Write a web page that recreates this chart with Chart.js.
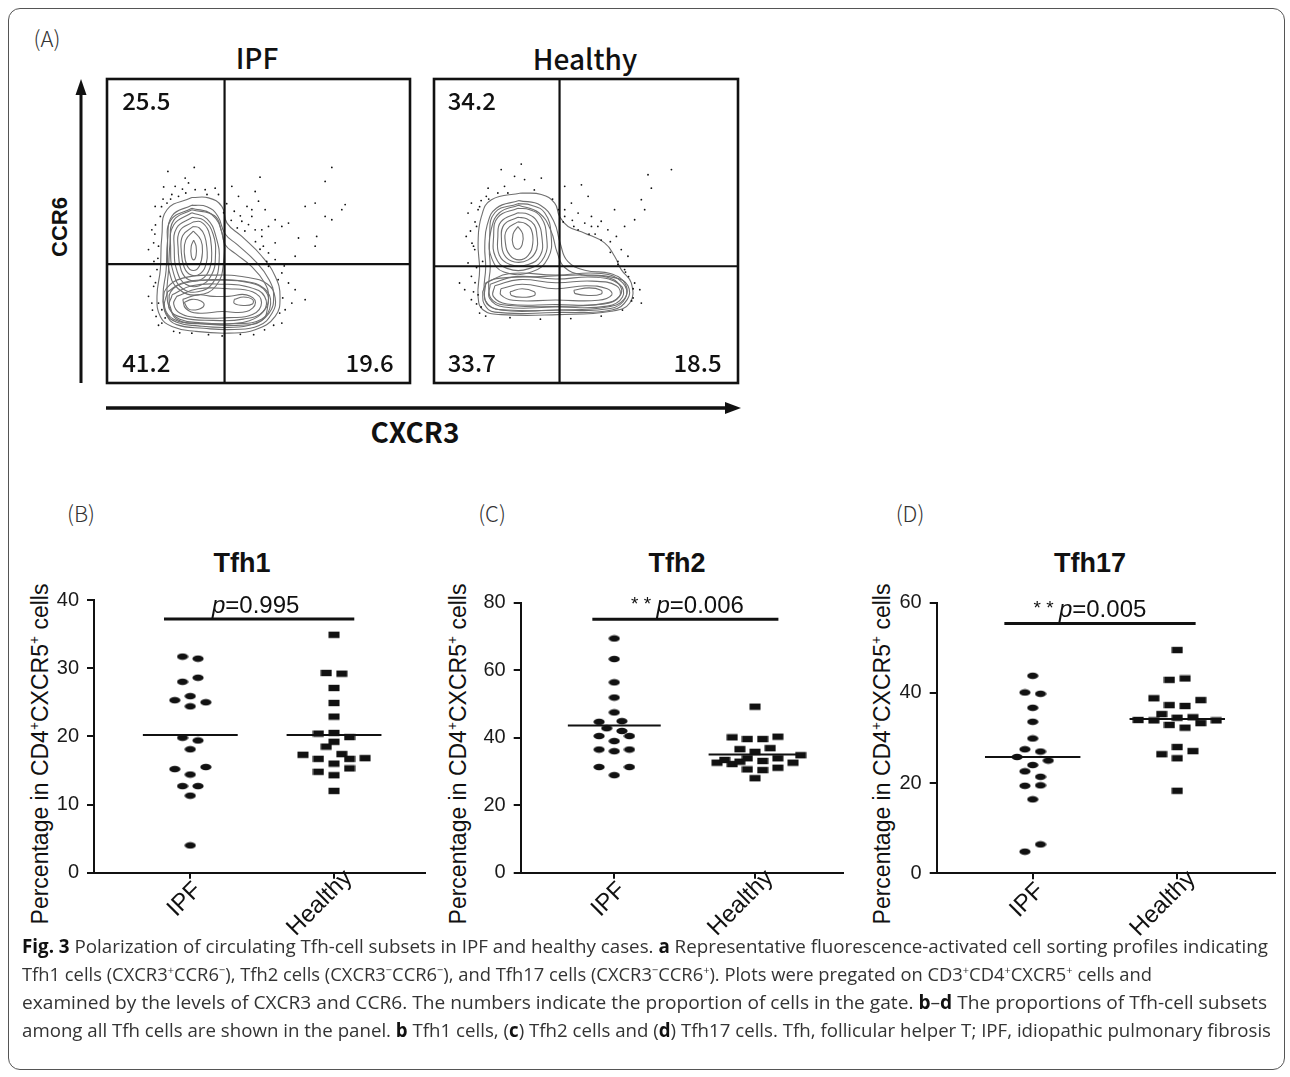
<!DOCTYPE html>
<html>
<head>
<meta charset="utf-8">
<script src="https://cdn.jsdelivr.net/npm/chart.js@4.4.1/dist/chart.umd.min.js"></script>
<style>
  body { margin: 0; width: 1290px; height: 1077px; position: relative; overflow: hidden; background: #fff; font-family: "Liberation Sans", Arial, sans-serif; color: #111; }
  .frame { position: absolute; left: 8px; top: 8px; width: 1277px; height: 1062px; border: 1.5px solid #555; border-radius: 12px; box-sizing: border-box; }
  .t { position: absolute; white-space: nowrap; transform: translate(-50%, -50%); }
  .jp { font-family: "Noto Sans CJK JP", "Noto Sans", sans-serif; }
  .letter { font-family: "Noto Sans CJK JP", sans-serif; font-size: 22px; font-weight: 300; color: #333; }
  .ptitle { font-size: 27px; font-weight: bold; }
  .ytitle { position: absolute; white-space: nowrap; font-size: 23px; transform: translate(-50%, -50%) rotate(-90deg); }
  .ytitle sup, .cap sup { font-size: 0.6em; line-height: 0; }
  canvas { position: absolute; }
  .cap { position: absolute; left: 22px; white-space: nowrap; font-family: "Open Sans", sans-serif; font-size: 19px; color: #333; transform-origin: left center; line-height: 28px; }
  .cap b { color: #111; }
</style>
</head>
<body>
<div class="frame"></div>

<!-- panel A text -->
<div class="t letter" style="left:47px;top:37px">(A)</div>
<div class="t jp" style="left:257px;top:57px;font-size:28px;font-weight:500">IPF</div>
<div class="t jp" style="left:585px;top:58px;font-size:28px;font-weight:500">Healthy</div>
<div class="ytitle" style="left:60px;top:227px;font-size:22px;font-weight:bold">CCR6</div>
<div class="t jp" style="left:415px;top:431px;font-size:28px;font-weight:700">CXCR3</div>
<svg style="position:absolute;left:0;top:0" width="760" height="440">
  <line x1="81" y1="383" x2="81" y2="92" stroke="#111" stroke-width="3"/>
  <polygon points="81,79 75.5,95 86.5,95" fill="#111"/>
  <line x1="106" y1="408" x2="727" y2="408" stroke="#111" stroke-width="3.5"/>
  <polygon points="741,408 725,402 725,414" fill="#111"/>
</svg>
<canvas id="flowIpf" width="311" height="312" style="left:103px;top:75px"></canvas>
<canvas id="flowHealthy" width="312" height="312" style="left:430px;top:75px"></canvas>

<!-- panels B-D text -->
<div class="t letter" style="left:81px;top:512px">(B)</div>
<div class="t letter" style="left:492px;top:512px">(C)</div>
<div class="t letter" style="left:910px;top:512px">(D)</div>
<div class="t ptitle" style="left:242px;top:563px">Tfh1</div>
<div class="t ptitle" style="left:677px;top:563px">Tfh2</div>
<div class="t ptitle" style="left:1090px;top:563px">Tfh17</div>
<div class="ytitle" style="left:40px;top:754px">Percentage in CD4<sup>+</sup>CXCR5<sup>+</sup> cells</div>
<div class="ytitle" style="left:458px;top:754px">Percentage in CD4<sup>+</sup>CXCR5<sup>+</sup> cells</div>
<div class="ytitle" style="left:882px;top:754px">Percentage in CD4<sup>+</sup>CXCR5<sup>+</sup> cells</div>
<canvas id="tfh1" width="440" height="380" style="left:0px;top:580px"></canvas>
<canvas id="tfh2" width="430" height="380" style="left:430px;top:580px"></canvas>
<canvas id="tfh17" width="440" height="380" style="left:850px;top:580px"></canvas>

<div class="cap" data-w="1246" style="top:932px"><b>Fig. 3</b> Polarization of circulating Tfh-cell subsets in IPF and healthy cases. <b>a</b> Representative fluorescence-activated cell sorting profiles indicating</div>
<div class="cap" data-w="1130" style="top:960px">Tfh1 cells (CXCR3<sup>+</sup>CCR6<sup>−</sup>), Tfh2 cells (CXCR3<sup>−</sup>CCR6<sup>−</sup>), and Tfh17 cells (CXCR3<sup>−</sup>CCR6<sup>+</sup>). Plots were pregated on CD3<sup>+</sup>CD4<sup>+</sup>CXCR5<sup>+</sup> cells and</div>
<div class="cap" data-w="1245" style="top:988px">examined by the levels of CXCR3 and CCR6. The numbers indicate the proportion of cells in the gate. <b>b</b>–<b>d</b> The proportions of Tfh-cell subsets</div>
<div class="cap" data-w="1249" style="top:1016px">among all Tfh cells are shown in the panel. <b>b</b> Tfh1 cells, (<b>c</b>) Tfh2 cells and (<b>d</b>) Tfh17 cells. Tfh, follicular helper T; IPF, idiopathic pulmonary fibrosis</div>

<script>
// ---- data -------------------------------------------------------------
const groups = ['IPF', 'Healthy'];

// % of CD4+CXCR5+ cells; "spread" = sideways slot of a dot so overlapping ones stay visible
const tfh1Ipf = [31.7, 31.4, 28.0, 28.6, 25.3, 25.9, 25.0, 24.4, 19.8, 19.4, 18.1, 15.2, 15.5, 14.4, 12.7, 12.7, 11.3, 4.0];
const tfh1IpfSpread = [-1, 1, -1, 1, -2, 0, 2, 0, -1, 1, 0, -2, 2, 0, -1, 1, 0, 0];
const tfh1Healthy = [34.9, 29.3, 29.2, 27.1, 24.9, 22.9, 20.4, 20.5, 19.9, 19.2, 18.5, 17.3, 17.4, 16.8, 16.7, 16.0, 16.7, 14.8, 15.3, 14.3, 12.0];
const tfh1HealthySpread = [0, -1, 1, 0, 0, 0, -2, 0, 2, 0, -1, -4, 1, 4, -2, 0, 2, -2, 2, 0, 0];
const tfh1Medians = [20.2, 20.2];

const tfh2Ipf = [69.4, 63.3, 56.4, 51.9, 47.5, 44.7, 44.9, 42.8, 42.0, 40.5, 40.5, 39.0, 36.5, 36.0, 36.5, 31.3, 31.3, 28.9];
const tfh2IpfSpread = [0, 0, 0, 0, 0, -2, 1, -1, 1, -2, 2, 0, -2, 0, 2, -2, 2, 0];
const tfh2Healthy = [49.2, 40.1, 39.6, 39.6, 40.3, 36.6, 36.9, 35.8, 32.6, 33.4, 32.2, 32.9, 33.9, 33.1, 33.9, 32.6, 34.8, 30.6, 30.4, 31.1, 28.0];
const tfh2HealthySpread = [0, -3, -1, 1, 3, -2, 2, 0, -5, -4, -3, -2, -1, 1, 3, 5, 6, -1, 1, 3, 0];
const tfh2Medians = [43.6, 35.0];

const tfh17Ipf = [43.8, 40.1, 39.8, 36.7, 33.6, 29.9, 27.5, 27.0, 25.8, 25.0, 24.0, 22.6, 21.4, 19.4, 19.5, 16.4, 4.8, 6.4];
const tfh17IpfSpread = [0, -1, 1, 0, 0, 0, -1, 1, -2, 2, 0, -1, 1, -1, 1, 0, -1, 1];
const tfh17Healthy = [49.5, 42.9, 43.2, 38.8, 38.4, 37.3, 37.1, 35.3, 34.0, 33.9, 34.5, 34.6, 32.9, 32.3, 33.3, 33.9, 28.0, 26.4, 27.1, 25.5, 18.3];
const tfh17HealthySpread = [0, -1, 1, -3, 3, -1, 1, -2, -5, -3, 0, 2, -1, 1, 3, 5, 0, -2, 2, 0, 0];
const tfh17Medians = [25.8, 34.2];

const pValues = ['0.995', '0.006', '0.005'];

// FACS quadrant percentages: upper-left, lower-left, lower-right
const ipfQuadrants = ['25.5', '41.2', '19.6'];
const healthyQuadrants = ['34.2', '33.7', '18.5'];
// gate thresholds (CXCR3, CCR6) on a 0-100 display scale
const ipfGate = [38.8, 39.1];
const healthyGate = [41.3, 38.4];

// contour levels (CXCR3, CCR6)
const ipfContours = [
  [[28,61],[19.8,57],[18.1,48.2],[17.6,37.3],[16.5,28.5],[17.6,21.9],[21.4,18.6],[29.1,17],[40.1,16.4],[48.9,17.5],[55.5,21.9],[57.1,28.5],[55.5,35.1],[51.1,41.7],[44.5,48.2],[39.6,52.6],[37.9,58.1],[33.5,60.9]],
  [[28,58.5],[21.5,55],[20,47],[19.5,37],[18.5,29],[19.5,23],[23,20],[30,18.8],[40,18.3],[48,19.3],[53.5,23],[55,28.5],[53.5,34],[49,40],[43,45.5],[39,49],[36.5,55],[33,58]],
  [[28,57],[22,53.5],[20.8,46],[20.3,37],[19.8,29],[21,24],[24,21],[31,19.8],[40,19.5],[47,20.5],[52,24],[53.3,28.5],[52,33],[47.5,38.5],[42.5,42.5],[39,45.5],[37.8,50],[35.5,55]],
  [[28,57.5],[21,53.5],[20,45],[20.5,37],[23.5,31],[30,29],[36,32],[38.5,40],[38,49],[34.5,55.5]],
  [[28,56],[22,52],[21,44],[22,36],[25,31],[30,30],[35,33],[37,40],[36,48],[33,54]],
  [[28.2,54.5],[23,51],[22.2,44],[23.2,36.5],[26,32.5],[30.5,32],[34.5,35.5],[35.8,42],[35,49],[32,53.5]],
  [[28.5,53],[24,50],[23.5,44],[24.5,37],[27,34],[31,34],[34,38],[34.5,44],[33.5,50],[31,53]],
  [[28.5,51.5],[25,48.5],[24.5,43.5],[25.5,38],[27.8,35.5],[30.8,36],[32.8,39.5],[33,44],[32.2,48.5],[30.5,51]],
  [[28.5,50],[26,47],[25.5,43],[26.5,38.5],[28.5,37],[30.5,38.5],[31.5,43],[31,47]],
  [[28.6,47],[27.8,45],[27.8,42],[28.6,40.5],[29.4,42],[29.4,45]],
  [[18.5,27],[19.5,22.5],[23,19.2],[32,18],[42,17.6],[50,18.8],[54.5,23],[55.5,28],[53,32.5],[46,34.8],[36,35.5],[25,34.5],[19.5,31]],
  [[20.5,26],[23,21],[32,19.5],[44,19],[51,20.5],[53,25],[52.5,30],[47,33],[36,33.8],[26,33],[21,30]],
  [[20,30],[25,33],[35,34],[45,33.5],[52,31],[54,26],[51,21],[42,19.5],[30,19.5],[22,21],[19,25]],
  [[21.5,29],[28,32],[38,32.5],[47,31.5],[52,28.5],[51.5,23.5],[45,21],[35,20.6],[25,21.5],[20.5,24.5]],
  [[23,28.5],[30,31],[40,31],[48,30],[51,26.5],[48,22.5],[40,21.5],[30,21.5],[24,23],[22,26]],
  [[25,27.5],[30,29],[35,28.5],[40,28.5],[46,29],[49,26.5],[46,23.5],[38,23.5],[30,23],[26,24.5]],
  [[25.5,26.5],[28,27.5],[31,27],[32,25.5],[30,24.2],[27,24.3]],
  [[42,27.5],[45,28.3],[48,27.5],[48,26],[45,25.5],[42,26.2]]
];
const ipfEvents = [
  [20.1,69.6],[28.8,70.9],[25.8,67.4],[26.9,65.8],[18.7,64.5],[22.5,64.7],[24.9,63.8],[29.1,63.6],[32.4,63.6],[35.7,64.1],
  [21.4,62.0],[23.6,61.4],[36.8,62.0],[15.9,58.1],[17.6,54.8],[19.8,59.2],[14.8,50.4],[13.7,43.9],[15.4,46.1],[16.5,37.3],
  [14.3,35.1],[15.4,31.8],[13.7,28.5],[14.8,26.3],[16.2,21.9],[18.1,19.7],[28.0,16.4],[33.5,15.9],[41.2,64.7],[50.5,67.7],
  [48.9,63.0],[43.4,61.4],[46.2,58.1],[50.0,59.8],[52.2,57.0],[55.5,53.7],[47.8,54.8],[53.3,51.5],[57.7,51.5],[51.1,48.2],
  [55.5,46.1],[59.9,52.6],[63.2,47.7],[62.1,41.7],[55.5,40.6],[53.3,38.4],[57.7,36.2],[59.9,32.9],[61.0,26.3],[62.1,30.7],
  [65.4,27.4],[58.8,24.1],[57.7,19.7],[48.4,15.9],[65.4,58.1],[68.7,59.2],[72.0,54.8],[74.2,53.7],[77.5,57.0],[74.2,70.9],
  [72.0,66.3],[78.6,58.7],[68.7,45.0],[69.2,48.2],[44.5,53.2],[46.7,52.1],[48.9,50.4],[51.1,50.4],[51.6,45.0],[53.3,42.8],
  [52.7,40.0],[47.8,57.0],[17.0,26.3],[18.1,24.1],[19.2,21.4],[16.8,41],[15.8,49],[18.5,60.5],[42,56.5],[44,55],
  [16,52],[17,45],[15.5,40],[16,33],[15,24],[17,19],[22,17],[24,16.5],[38,15.5],[44,16],[52,17.5],[55,19],[57,23],[58,28],
  [56.5,34],[58.5,38.5],[50.5,44],[49,46.5],[45.5,50],[43,51],[41,53.5],[38.5,56],[39.5,59],[33,62],[26,62.5],[21,60.5],[18,58]
];

const healthyContours = [
  [[28.7,62.5],[18.9,60.3],[15.6,54.8],[14.5,46.1],[15,37.3],[14.5,28.5],[16.1,24.1],[22.1,22.5],[40.8,22.5],[58.3,23.6],[64.4,26.3],[64.9,32.9],[61.6,37.3],[59.4,41.7],[56.1,46.1],[49.6,49.3],[44.1,51.5],[41.3,54.8],[39.7,59.2],[35.3,62]],
  [[28,60],[20.5,57.5],[17.5,52],[16.7,45],[17,38],[16.5,30],[18,25.5],[24,24],[41,24],[57,25],[62.5,27.5],[63,32.5],[58,36],[50,37],[44,40],[41.5,46],[39.5,53],[35,58.5]],
  [[27.8,58.5],[21.5,56],[18.8,50.5],[18.2,44],[18.5,38],[18,31],[19.5,27],[25,25.5],[41,25.2],[56,26.2],[61,28.5],[61.2,32],[57,34.8],[49,35.5],[43,38],[40.5,43],[38.5,50],[34.5,56]],
  [[27.6,59],[20,56],[18.3,48],[19,41],[23,36.5],[32,36.5],[37.5,41],[38.5,49],[36.4,56],[32,58.5]],
  [[27.6,57.5],[21,54.5],[19.6,48],[20.2,41.5],[24,37.7],[31.5,37.7],[36.3,41.5],[37,48.5],[35.2,54.5],[31.5,57]],
  [[27.6,56],[22,53],[21,48],[21.5,42],[25,39],[31,39],[35,42],[35.5,48],[34,53],[31,55.5]],
  [[27.6,54.5],[23,52],[22.2,47],[23.2,42],[26.5,39.8],[31,40.5],[33.8,44],[33.8,49],[33,52],[30.5,54]],
  [[27.6,53],[24,50.5],[23.5,46],[25,42],[28,40.5],[31,42],[32.5,46],[32,50.5],[30,52.5]],
  [[27.6,51.5],[26,49],[26,45.5],[27.5,44],[29,45.5],[29.2,49]],
  [[16,30],[16.5,26],[20,23.3],[40,23.2],[58.5,24],[63.6,27.5],[63.8,32],[60,34.5],[50,35.5],[35,35],[22,34.5],[17.5,33]],
  [[17,33],[25,36],[40,35.5],[55,36],[62,33],[63,28],[58,24.5],[40,24],[22,24],[17,27]],
  [[18.5,32.5],[27,35],[40,34.2],[53,34.8],[61,32.5],[62,28.3],[57,25.3],[40,25],[23,25],[18.3,27.8]],
  [[20,32],[28,34],[40,33],[52,33.5],[60,32],[61,28.5],[56,26],[40,25.8],[24,26],[19.5,28.5]],
  [[22,31],[29,32.5],[40,31],[50,32],[57,31],[58.5,29],[54,27.2],[40,27.3],[26,27.2],[22,29]],
  [[25,30],[29,31],[33,30],[33,28.8],[29,28.2],[25.5,28.8]],
  [[46,30.5],[51,31.3],[55,30.5],[55,29.3],[51,28.8],[46.5,29.4]]
];
const healthyEvents = [
  [28.7,72.0],[22.1,70.2],[26.5,68.0],[29.8,66.9],[35.3,67.4],[17.8,64.1],[23.2,64.7],[24.3,62.5],[17.2,61.4],[12.3,59.2],
  [11.2,55.9],[14.0,51.5],[10.6,48.2],[13.4,43.9],[11.2,39.5],[12.3,35.1],[8.4,32.9],[10.1,30.7],[12.3,27.4],[15.0,23.0],
  [43.0,64.7],[48.5,65.2],[50.7,61.4],[45.2,59.2],[43.0,57.0],[47.4,55.9],[51.8,54.8],[53.9,51.5],[57.2,50.4],[55.0,53.2],
  [49.6,52.6],[60.0,48.2],[61.6,43.9],[63.8,41.7],[62.7,37.3],[66.0,32.9],[67.7,30.7],[68.2,26.3],[69.3,57.0],[68.2,60.3],
  [71.5,64.1],[78.1,70.2],[70.4,68.5],[66.0,53.7],[59.4,57.0],[62.7,51.5],[47.4,50.4],[51.8,51.5],[43.0,54.8],[13,45],
  [12,50],[14.5,57],[15.5,60],[16,40],[13,30],[14,26],[45.5,53.5],[53,49],[58,46.5],[60.5,40],[64,35],[65.5,28],
  [15,58],[13.5,53],[12.5,46],[14,38],[13.5,33],[14.5,29],[15.5,25],[17,22],[25,21.5],[35,21],[45,21.2],[55,22],[62,24],
  [65,27],[65.5,31],[63,36.5],[60.5,39],[58,43],[55,47],[51,49],[46,51.5],[42.5,53],[41,57],[39,60.5],[33,63.5],[21,62.5],[18,60.5]
];

// ---- drawing ----------------------------------------------------------
const step = 0.054;       // sideways slot width, in category units
const medianHalf = 0.33;

function markImage(shape) {
  const c = document.createElement('canvas');
  c.width = 12; c.height = 8;
  const g = c.getContext('2d');
  g.fillStyle = '#111';
  if (shape === 'ellipse') {
    g.beginPath(); g.ellipse(6, 4, 5.6, 3.3, 0, 0, Math.PI * 2); g.fill();
  } else {
    g.fillRect(0.5, 0.8, 11, 6.4);
  }
  return c;
}
const ellipseMark = markImage('ellipse');
const rectMark = markImage('rect');

const pValuePlugin = {
  id: 'pValue',
  afterDatasetsDraw(chart, args, o) {
    const { ctx, scales: { x, y } } = chart;
    const cx = x.getPixelForValue(o.x);
    const base = y.getPixelForValue(o.y) - 6;
    const starFont = '19px "Liberation Sans"';
    const pFont = 'italic 24px "Liberation Sans"';
    const numFont = '24px "Liberation Sans"';
    const stars = o.stars ? '* * ' : '';
    ctx.save();
    ctx.fillStyle = '#111';
    ctx.textAlign = 'left';
    ctx.textBaseline = 'alphabetic';
    ctx.font = starFont; const ws = ctx.measureText(stars).width;
    ctx.font = pFont; const wp = ctx.measureText('p').width;
    ctx.font = numFont; const wn = ctx.measureText('=' + o.text).width;
    let left = cx - (ws + wp + wn) / 2;
    ctx.font = starFont; ctx.fillText(stars, left, base - 3); left += ws;
    ctx.font = pFont; ctx.fillText('p', left, base); left += wp;
    ctx.font = numFont; ctx.fillText('=' + o.text, left, base);
    ctx.restore();
  }
};

// slanted group names under the x axis
const groupLabelPlugin = {
  id: 'groupLabels',
  afterDraw(chart) {
    const { ctx, chartArea: a, scales: { x } } = chart;
    ctx.save();
    ctx.font = '24px "Liberation Sans"';
    ctx.fillStyle = '#111';
    ctx.textAlign = 'center';
    ctx.textBaseline = 'middle';
    groups.forEach((g, i) => {
      const w = ctx.measureText(g).width;
      ctx.save();
      ctx.translate(x.getPixelForValue(i + 1) - 0.2 * w + 2, a.bottom + 24 + 0.08 * w);
      ctx.rotate(-Math.PI / 4);
      ctx.fillText(g, 0, 0);
      ctx.restore();
    });
    ctx.restore();
  }
};

function dotPanel(id, cfg) {
  const pts = (vals, spread, center) => vals.map((v, i) => ({ x: center + spread[i] * step, y: v }));
  const seg = (x0, x1, v) => [{ x: x0, y: v }, { x: x1, y: v }];
  const lineSet = (data, w) => ({ data, showLine: true, borderColor: '#111', borderWidth: w, pointRadius: 0, fill: false });
  return new Chart(document.getElementById(id), {
    type: 'scatter',
    data: {
      datasets: [
        lineSet(seg(1 - medianHalf, 1 + medianHalf, cfg.medians[0]), 2),
        lineSet(seg(2 - medianHalf, 2 + medianHalf, cfg.medians[1]), 2),
        lineSet(seg(cfg.bracket[0], cfg.bracket[1], cfg.bracket[2]), 3),
        { data: pts(cfg.ipf, cfg.ipfSpread, 1), pointStyle: ellipseMark, pointRadius: 5 },
        { data: pts(cfg.healthy, cfg.healthySpread, 2), pointStyle: rectMark, pointRadius: 5 }
      ]
    },
    options: {
      responsive: false,
      animation: false,
      events: [],
      layout: { padding: { left: 0, right: cfg.padRight, top: cfg.padTop, bottom: 0 } },
      plugins: { legend: { display: false }, tooltip: { enabled: false }, pValue: cfg.p },
      scales: {
        x: {
          type: 'linear', min: cfg.xRange[0], max: cfg.xRange[1],
          afterBuildTicks: s => { s.ticks = [{ value: 1 }, { value: 2 }]; },
          afterFit: s => { s.height = cfg.xHeight; },
          ticks: { display: false, autoSkip: false },
          grid: { drawOnChartArea: false, drawTicks: true, tickLength: 6, color: '#111', lineWidth: 2 },
          border: { display: true, color: '#111', width: 2 }
        },
        y: {
          min: 0, max: cfg.yMax,
          afterFit: s => { s.width = cfg.yWidth; },
          ticks: { stepSize: cfg.yStep, padding: 8, color: '#1a1a1a', font: { family: 'Liberation Sans', size: 20 } },
          grid: { drawOnChartArea: false, drawTicks: true, tickLength: 7, color: '#111', lineWidth: 2 },
          border: { display: true, color: '#111', width: 2 }
        }
      }
    },
    plugins: [pValuePlugin, groupLabelPlugin]
  });
}

dotPanel('tfh1', {
  ipf: tfh1Ipf, ipfSpread: tfh1IpfSpread, healthy: tfh1Healthy, healthySpread: tfh1HealthySpread,
  medians: tfh1Medians, bracket: [0.817, 2.141, 37.2], p: { x: 1.455, y: 37.2, stars: false, text: pValues[0] },
  yMax: 40, yStep: 10, xRange: [0.33, 2.633], yWidth: 94, xHeight: 87.3, padRight: 15, padTop: 19.3
});
dotPanel('tfh2', {
  ipf: tfh2Ipf, ipfSpread: tfh2IpfSpread, healthy: tfh2Healthy, healthySpread: tfh2HealthySpread,
  medians: tfh2Medians, bracket: [0.844, 2.166, 75.1], p: { x: 1.52, y: 75.1, stars: true, text: pValues[1] },
  yMax: 80, yStep: 20, xRange: [0.335, 2.625], yWidth: 90.7, xHeight: 87.3, padRight: 17, padTop: 22.7
});
dotPanel('tfh17', {
  ipf: tfh17Ipf, ipfSpread: tfh17IpfSpread, healthy: tfh17Healthy, healthySpread: tfh17HealthySpread,
  medians: tfh17Medians, bracket: [0.804, 2.127, 55.4], p: { x: 1.396, y: 55.4, stars: true, text: pValues[2] },
  yMax: 60, yStep: 20, xRange: [0.336, 2.676], yWidth: 86.7, xHeight: 86.7, padRight: 15, padTop: 22.7
});

const gatePlugin = {
  id: 'gate',
  afterDatasetsDraw(chart, args, o) {
    const { ctx, chartArea: a } = chart;
    const w = a.right - a.left, h = a.bottom - a.top;
    ctx.save();
    ctx.strokeStyle = '#111';
    ctx.lineWidth = 2.6;
    ctx.strokeRect(a.left, a.top, w, h);
    ctx.fillStyle = '#111';
    ctx.font = '500 24px "Noto Sans CJK JP"';
    ctx.textBaseline = 'middle';
    ctx.textAlign = 'left';
    ctx.fillText(o.values[0], a.left + o.inset * w, a.top + 0.072 * h);
    ctx.fillText(o.values[1], a.left + o.inset * w, a.bottom - 0.066 * h);
    ctx.textAlign = 'right';
    ctx.fillText(o.values[2], a.right - 0.054 * w, a.bottom - 0.066 * h);
    ctx.restore();
  }
};

function flowPanel(id, loops, events, gate, quadrants, inset) {
  const toXY = arr => arr.map(p => ({ x: p[0], y: p[1] }));
  const datasets = [
    { data: [{ x: gate[0], y: 0 }, { x: gate[0], y: 100 }], showLine: true, borderColor: '#111', borderWidth: 2.2, pointRadius: 0 },
    { data: [{ x: 0, y: gate[1] }, { x: 100, y: gate[1] }], showLine: true, borderColor: '#111', borderWidth: 2.2, pointRadius: 0 },
    { data: toXY(events), pointRadius: 0.9, backgroundColor: '#111', borderWidth: 0 }
  ];
  loops.forEach(loop => datasets.push({
    data: toXY(loop.concat([loop[0]])), showLine: true, borderColor: '#707070', borderWidth: 1.1,
    tension: 0.45, pointRadius: 0, fill: false
  }));
  return new Chart(document.getElementById(id), {
    type: 'scatter',
    data: { datasets },
    options: {
      responsive: false, animation: false, events: [],
      layout: { padding: 4 },
      plugins: { legend: { display: false }, tooltip: { enabled: false }, gate: { values: quadrants, inset: inset } },
      scales: {
        x: { type: 'linear', min: 0, max: 100, display: false },
        y: { type: 'linear', min: 0, max: 100, display: false }
      }
    },
    plugins: [gatePlugin]
  });
}

flowPanel('flowIpf', ipfContours, ipfEvents, ipfGate, ipfQuadrants, 0.05);
flowPanel('flowHealthy', healthyContours, healthyEvents, healthyGate, healthyQuadrants, 0.045);

// caption lines are set in a condensed measure in the original
document.fonts.ready.then(() => {
  document.querySelectorAll('.cap').forEach(el => {
    const w = el.getBoundingClientRect().width;
    el.style.transform = 'scaleX(' + (Number(el.dataset.w) / w) + ')';
  });
});
</script>
</body>
</html>
